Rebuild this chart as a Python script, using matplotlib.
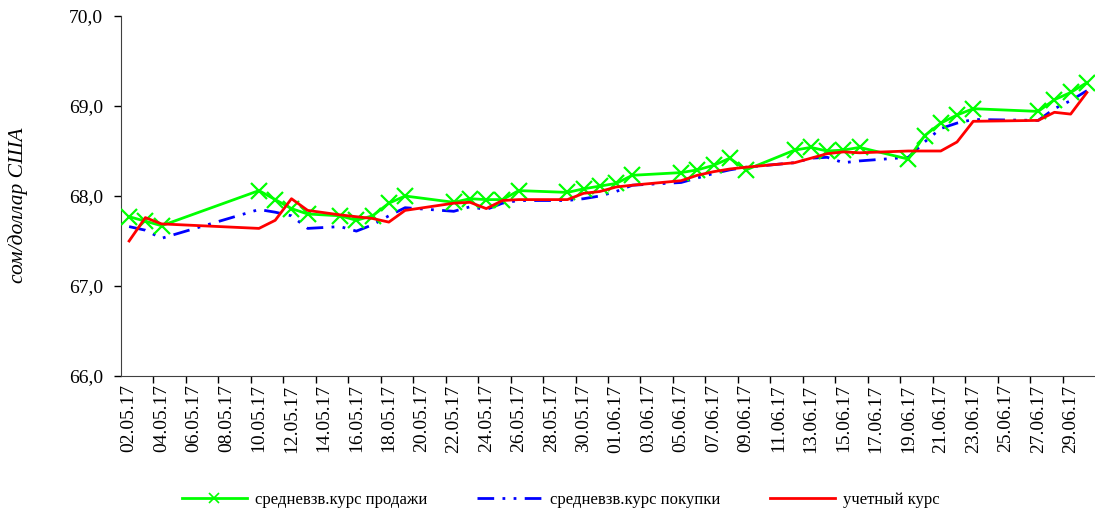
import datetime as dt

import matplotlib
matplotlib.use("Agg")
import matplotlib.pyplot as plt

# trading days (13.05 was a working Saturday, 26.06 a holiday)
dates = ["02.05", "03.05", "04.05", "10.05", "11.05", "12.05", "13.05", "15.05",
         "16.05", "17.05", "18.05", "19.05", "22.05", "23.05", "24.05", "25.05",
         "26.05", "29.05", "30.05", "31.05", "01.06", "02.06", "05.06", "06.06",
         "07.06", "08.06", "09.06", "12.06", "13.06", "14.06", "15.06", "16.06",
         "19.06", "20.06", "21.06", "22.06", "23.06", "27.06", "28.06", "29.06",
         "30.06"]

sale = [67.77, 67.72, 67.67, 68.06, 67.96, 67.86, 67.80, 67.78,
        67.73, 67.78, 67.92, 68.00, 67.93, 67.97, 67.96, 67.96,
        68.06, 68.04, 68.08, 68.11, 68.14, 68.23, 68.26, 68.29,
        68.34, 68.42, 68.29, 68.51, 68.54, 68.50, 68.51, 68.54,
        68.41, 68.67, 68.81, 68.90, 68.97, 68.94, 69.07, 69.15,
        69.26]

buy = [67.66, 67.62, 67.53, 67.85, 67.82, 67.78, 67.64, 67.66,
       67.61, 67.68, 67.78, 67.87, 67.83, 67.88, 67.85, 67.92,
       67.95, 67.95, 67.97, 68.00, 68.05, 68.12, 68.15, 68.20,
       68.25, 68.29, 68.32, 68.37, 68.42, 68.43, 68.37, 68.39,
       68.43, 68.60, 68.75, 68.81, 68.85, 68.84, 68.97, 69.06,
       69.17]

official = [67.50, 67.76, 67.69, 67.64, 67.73, 67.97, 67.84, 67.79,
            67.77, 67.75, 67.71, 67.84, 67.92, 67.93, 67.86, 67.95,
            67.96, 67.96, 68.03, 68.05, 68.10, 68.12, 68.17, 68.23,
            68.27, 68.30, 68.32, 68.37, 68.42, 68.47, 68.49, 68.48,
            68.50, 68.50, 68.50, 68.60, 68.83, 68.84, 68.93, 68.91,
            69.15]

start = dt.date(2017, 5, 2)
# day offsets from 02.05.17 for the date axis
x = [(dt.datetime.strptime(d + ".2017", "%d.%m.%Y").date() - start).days for d in dates]

plt.rcParams['font.family'] = ['Liberation Serif', 'DejaVu Serif']

fig = plt.figure(figsize=(10.95, 5.12), dpi=100)
ax = fig.add_axes([121 / 1095, 136 / 512, 1 - 121 / 1095, 360 / 512])

ax.plot(x, sale, color='#00ff00', lw=2, marker='x', ms=11, mew=1.6,
        label='средневзв.курс продажи', zorder=3)
ax.plot(x, buy, color='#0000ff', lw=2, dashes=(6, 3, 1, 3, 1, 3),
        label='средневзв.курс покупки', zorder=2)
ax.plot(x, official, color='#ff0000', lw=2, label='учетный курс', zorder=4)

ax.set_xlim(-0.5, 59.5)
ax.set_ylim(66, 70)

label_days = list(range(0, 59, 2))
ax.set_xticks(label_days)
ax.set_xticklabels([(start + dt.timedelta(days=d)).strftime("%d.%m.%y") for d in label_days],
                   rotation=90, fontsize=14)
ax.tick_params(axis='x', length=0, pad=6)
ax.set_xticks([d - 0.5 for d in range(2, 60, 2)], minor=True)
ax.tick_params(axis='x', which='minor', length=5, direction='out', width=1)

ax.set_yticks([66, 67, 68, 69, 70])
ax.set_yticklabels(["66,0", "67,0", "68,0", "69,0", "70,0"], fontsize=14)
ax.tick_params(axis='y', length=5, direction='out', width=1, pad=8)
ax.set_ylabel('сом/доллар США', fontsize=15.5, fontstyle='italic')
ax.yaxis.set_label_coords(-0.095, 0.475)

for side in ['top', 'right']:
    ax.spines[side].set_visible(False)
ax.spines['left'].set_color('#404040')
ax.spines['bottom'].set_color('#404040')

leg = fig.legend(loc='center', bbox_to_anchor=(0.512, 0.024), ncol=3, frameon=False,
                 fontsize=12, handlelength=3.9, handletextpad=0.5, columnspacing=2.95)
# smaller cross in the legend key, as in the original
leg.legend_handles[0].set_markersize(7)
leg.legend_handles[0].set_markeredgewidth(1.2)

fig.savefig('out.png', dpi=100)
